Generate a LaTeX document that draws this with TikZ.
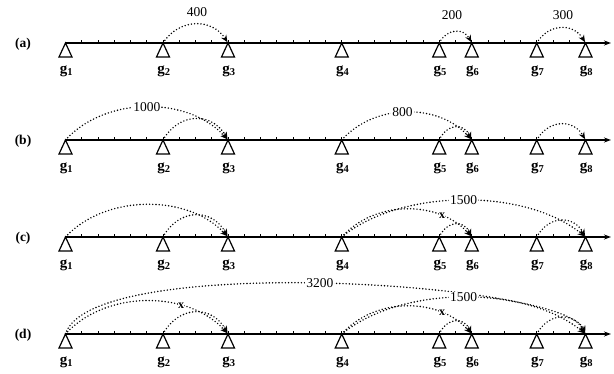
\documentclass[tikz,border=0pt]{standalone}
\usepackage{fontspec}
\setmainfont{Liberation Serif}
\usetikzlibrary{arrows.meta}
\newcommand\tlrow[3]{%
  \node[rowlabel] (lab#1) at (23,#2+1) {(#3)};
  \draw[axisline] (66,#2) -- (611,#2);
  \foreach \k in {1,...,31}{\draw[tickmark] ({65.5+16.25*\k},#2) -- ++(0,-3.5);}
  \foreach \u [count=\i] in {0,6,10,17,23,25,29,32}{%
    \coordinate (#1\i) at ({65.5+16.25*\u},#2);
    \draw[support] (#1\i) -- ++(-6.5,14) -- ++(13,0) -- cycle;
    \node[glabel] (#1g\i) at ({65.5+16.25*\u+1},#2+28) {g\textsubscript{\i}};
  }%
}
\begin{document}
\begin{tikzpicture}[x=1pt,y=-1pt,
  axisline/.style={line width=1.4pt,-{Stealth[length=7pt,width=5pt]}},
  tickmark/.style={line width=0.8pt},
  support/.style={draw,line width=1.2pt,fill=white,line join=miter},
  glabel/.style={font=\fontsize{15}{17}\selectfont\bfseries,inner sep=0pt},
  rowlabel/.style={font=\fontsize{13.5}{15}\selectfont\bfseries,inner sep=0pt},
  numlabel/.style={font=\fontsize{13.5}{15}\selectfont,inner sep=0pt},
  onarc/.style={font=\fontsize{13.5}{15}\selectfont,fill=white,inner sep=1pt},
  crossmark/.style={font=\fontsize{12}{13}\selectfont\bfseries,fill=white,inner sep=0.3pt},
  hop/.style={line width=1.6pt,dash pattern=on 0pt off 3.2pt,line cap=round,
    shorten >=1pt,-{Stealth[length=7pt,width=6pt]}}]
\useasboundingbox (0,0) rectangle (614,373);

% row (a)
\tlrow{a}{43}{a}
\draw[hop] (a2) .. controls +(16,-25) and +(-16,-25) .. (a3);
\draw[hop] (a5) .. controls +(8,-15) and +(-8,-15) .. (a6);
\draw[hop] (a7) .. controls +(12,-20) and +(-12,-20) .. (a8);
\node[numlabel] (n400) at (197,12) {400};
\node[numlabel] (n200) at (452,15) {200};
\node[numlabel] (n300) at (563,15) {300};

% row (b)
\tlrow{b}{140}{b}
\draw[hop] (b1) .. controls +(40,-44) and +(-40,-44) .. node[onarc,pos=0.5] (n1000) {1000} (b3);
\draw[hop] (b2) .. controls +(16,-28) and +(-16,-28) .. (b3);
\draw[hop] (b4) .. controls +(33,-37) and +(-33,-37) .. node[onarc,pos=0.47] (n800) {800} (b6);
\draw[hop] (b5) .. controls +(8,-17) and +(-8,-17) .. (b6);
\draw[hop] (b7) .. controls +(12,-21) and +(-12,-21) .. (b8);

% row (c)
\tlrow{c}{237}{c}
\draw[hop] (c1) .. controls +(40,-43) and +(-40,-43) .. (c3);
\draw[hop] (c2) .. controls +(16,-29) and +(-16,-29) .. (c3);
\draw[hop] (c4) .. controls +(33,-37) and +(-33,-37) .. node[crossmark,pos=0.75] (xc) {x} (c6);
\draw[hop] (c4) .. controls +(60,-49) and +(-60,-49) .. node[onarc,pos=0.5] (n1500c) {1500} (c8);
\draw[hop] (c5) .. controls +(8,-17) and +(-8,-17) .. (c6);
\draw[hop] (c7) .. controls +(12,-22) and +(-12,-22) .. (c8);

% row (d)
\tlrow{d}{334}{d}
\draw[hop] (d1) .. controls +(25,-82) and +(-20,-52) .. node[onarc,pos=0.49] (n3200) {3200} (d8);
\draw[hop] (d1) .. controls +(40,-44) and +(-40,-44) .. node[crossmark,pos=0.69] (xd1) {x} (d3);
\draw[hop] (d2) .. controls +(16,-29) and +(-16,-29) .. (d3);
\draw[hop] (d4) .. controls +(33,-37) and +(-33,-37) .. node[crossmark,pos=0.75] (xd2) {x} (d6);
\draw[hop] (d4) .. controls +(60,-49) and +(-60,-49) .. node[onarc,pos=0.5] (n1500d) {1500} (d8);
\draw[hop] (d5) .. controls +(8,-17) and +(-8,-17) .. (d6);
\draw[hop] (d7) .. controls +(12,-22) and +(-12,-22) .. (d8);
\end{tikzpicture}
\end{document}
